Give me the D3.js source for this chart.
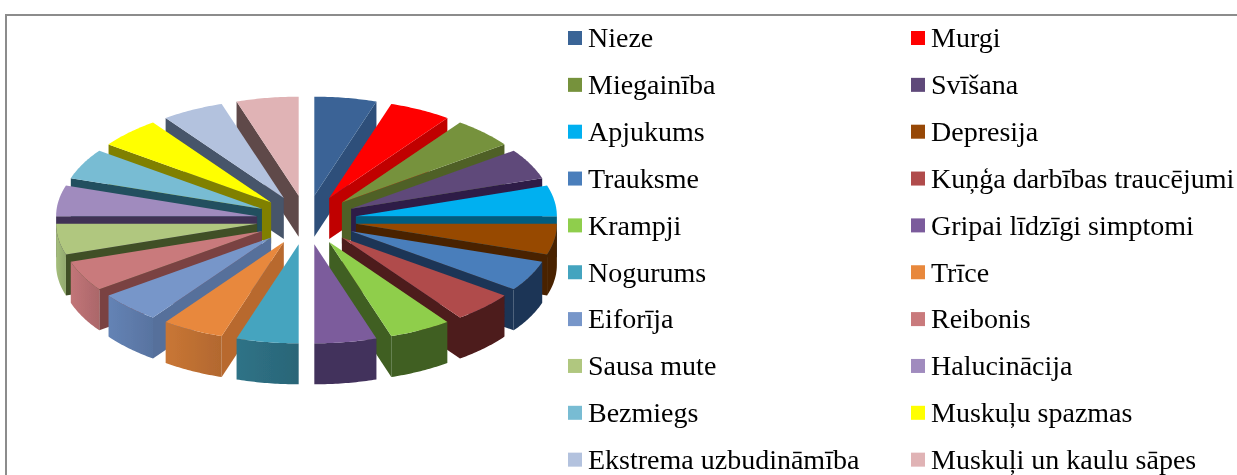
<!DOCTYPE html>
<html>
<head>
<meta charset="utf-8">
<script src="https://cdn.jsdelivr.net/npm/d3@7/dist/d3.min.js"></script>
<style>
    html, body { margin: 0; padding: 0; background: #fff; }
    svg { display: block; }
    .legend text { font-family: "Liberation Serif", serif; font-size: 28px; fill: #000; }
</style>
</head>
<body>
<svg id="chart" width="1237" height="475"></svg>
<script>
const categories = ['Nieze', 'Murgi', 'Miegainība', 'Svīšana', 'Apjukums', 'Depresija', 'Trauksme',
    'Kuņģa darbības traucējumi', 'Krampji', 'Gripai līdzīgi simptomi', 'Nogurums', 'Trīce', 'Eiforīja',
    'Reibonis', 'Sausa mute', 'Halucinācija', 'Bezmiegs', 'Muskuļu spazmas', 'Ekstrema uzbudināmība',
    'Muskuļi un kaulu sāpes'];
const values = [5, 5, 5, 5, 5, 5, 5, 5, 5, 5, 5, 5, 5, 5, 5, 5, 5, 5, 5, 5];

const topColors = ['#3a6496', '#ff0000', '#76923c', '#5f497a', '#00b0f0', '#974806', '#4a7ebb', '#b04b4b',
    '#8fce4c', '#7b5b9c', '#44a4bf', '#e8883c', '#7796c9', '#c97a7c', '#b0c77f', '#a08bbe', '#78bcd3',
    '#ffff00', '#b3c2de', '#e0b3b5'];
const sideColors = ['#2d4f7a', '#c00000', '#4f6128', '#2e1e47', '#005c7e', '#4a2300', '#1e3556', '#4e1a1a',
    '#3f5f20', '#43305c', '#2d6d80', '#b8692f', '#566f9b', '#7a4242', '#3f4f28', '#3f3055', '#234f5e',
    '#808000', '#47546a', '#5f4848'];
const outerColors = ['#2d4f7a', '#c00000', '#4f6128', '#2e1e47', '#005c7e', '#4a2300', '#1e3556', '#4e1a1a',
    '#3f5f20', '#43305c', '#2d6d80', '#bf7032', '#5f7cac', '#b86f72', '#9cb476', '#3f3055', '#234f5e',
    '#808000', '#47546a', '#5f4848'];

const svg = d3.select('#chart');
const defs = svg.append('defs');

// the source is a scaled bitmap, so everything is a little soft
defs.append('filter').attr('id', 'soft')
    .append('feGaussianBlur').attr('stdDeviation', 0.5);
defs.append('filter').attr('id', 'softText')
    .append('feGaussianBlur').attr('stdDeviation', 0.3);

// frame, only top and left are inside the crop
svg.append('path')
    .attr('d', 'M6,475V15H1237')
    .attr('fill', 'none')
    .attr('stroke', '#8c8c8c')
    .attr('stroke-width', 2);

const cx = 306.5, cy = 220,
    radius = 201,
    squash = 0.4925,
    explode = 50,
    depth = 41;

const pie = d3.pie().value(d => d).sort(null);
const arcs = pie(values).map((d, i) => ({...d, i}));

const line = d3.line().x(d => d[0]).y(d => d[1]);

// theta is clockwise from the top, same as d3.pie
function project(d, theta, r, h) {
    const mid = (d.startAngle + d.endAngle) / 2;
    return [
        cx + explode * Math.sin(mid) + r * Math.sin(theta),
        cy - (explode * Math.cos(mid) + r * Math.cos(theta)) * squash + h
    ];
}

function rimAngles(a0, a1) {
    return d3.range(0, 25).map(k => a0 + (a1 - a0) * k / 24);
}

function radialWall(d, theta) {
    return line([project(d, theta, 0, 0), project(d, theta, radius, 0),
        project(d, theta, radius, depth), project(d, theta, 0, depth)]) + 'Z';
}

// left front walls catch some light, lighter on their left side
function outerFill(d) {
    if (d.i < 10) return outerColors[d.i];
    const id = 'outer' + d.i;
    const grad = defs.append('linearGradient').attr('id', id);
    grad.append('stop').attr('offset', 0).attr('stop-color', d3.color(outerColors[d.i]).brighter(0.15));
    grad.append('stop').attr('offset', 1).attr('stop-color', d3.color(outerColors[d.i]).darker(0.2));
    return 'url(#' + id + ')';
}

const pieG = svg.append('g').attr('class', 'pie').attr('filter', 'url(#soft)');

// painter order, back slices first
const order = arcs.slice().sort((a, b) =>
    Math.cos((b.startAngle + b.endAngle) / 2) - Math.cos((a.startAngle + a.endAngle) / 2));

order.forEach(d => {
    const g = pieG.append('g');
    const mid = (d.startAngle + d.endAngle) / 2;

    // right half shows the end wall, left half the start wall
    const wallAngle = mid < Math.PI ? d.endAngle : d.startAngle;
    g.append('path')
        .attr('d', radialWall(d, wallAngle))
        .attr('fill', sideColors[d.i]);

    // curved wall only on the front half
    const a0 = Math.max(d.startAngle, Math.PI / 2);
    const a1 = Math.min(d.endAngle, Math.PI * 1.5);
    if (a1 > a0) {
        const top = rimAngles(a0, a1).map(t => project(d, t, radius, 0));
        const bottom = rimAngles(a0, a1).reverse().map(t => project(d, t, radius, depth));
        g.append('path')
            .attr('d', line(top.concat(bottom)) + 'Z')
            .attr('fill', outerFill(d));
    }

    const face = [project(d, 0, 0, 0)].concat(
        rimAngles(d.startAngle, d.endAngle).map(t => project(d, t, radius, 0)));
    g.append('path')
        .attr('d', line(face) + 'Z')
        .attr('fill', topColors[d.i]);
});

// legend, two columns filled left to right
const legendX = d3.scalePoint().domain([0, 1]).range([568, 911]);
const legendY = d3.scaleLinear().domain([0, 1]).range([31, 77.85]);

const legend = svg.append('g').attr('class', 'legend')
    .selectAll('g')
    .data(categories)
    .join('g')
    .attr('transform', (d, i) =>
        'translate(' + legendX(i % 2) + ',' + legendY(Math.floor(i / 2)) + ')');

legend.append('rect')
    .attr('width', 14)
    .attr('height', 14)
    .attr('fill', (d, i) => topColors[i]);

legend.append('text')
    .attr('x', 20)
    .attr('y', 16.3)
    .attr('filter', 'url(#softText)')
    .text(d => d);
</script>
</body>
</html>
